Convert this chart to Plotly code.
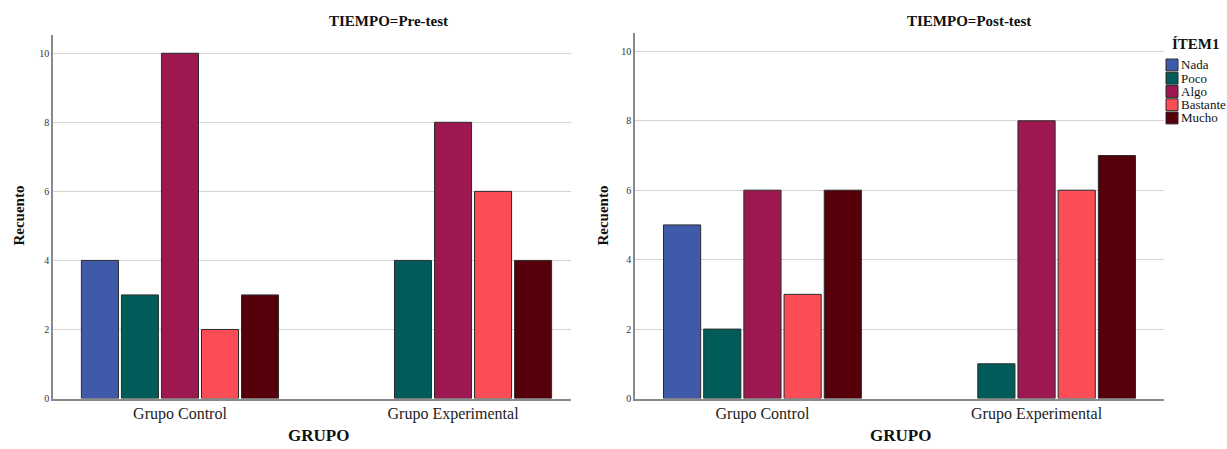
import plotly.graph_objects as go

grupos = ["Grupo Control", "Grupo Experimental"]
items = ["Nada", "Poco", "Algo", "Bastante", "Mucho"]
colors = ["#3F5AA9", "#015C59", "#9D1851", "#FC4D57", "#55000B"]

pre_values = {
    "Nada": [4, 0],
    "Poco": [3, 4],
    "Algo": [10, 8],
    "Bastante": [2, 6],
    "Mucho": [3, 4],
}
post_values = {
    "Nada": [5, 0],
    "Poco": [2, 1],
    "Algo": [6, 8],
    "Bastante": [3, 6],
    "Mucho": [6, 7],
}
y_ticks = [0, 2, 4, 6, 8, 10]

W, H = 1227, 449
FONT = "Liberation Serif"

def drawn(vals):
    # SPSS draws no bar for a zero count
    return [v if v else None for v in vals]

fig = go.Figure()
for it, col in zip(items, colors):
    fig.add_trace(go.Bar(x=grupos, y=drawn(pre_values[it]), name=it, marker_color=col,
                         marker_line=dict(color="#2b2b2b", width=1),
                         xaxis="x", yaxis="y", showlegend=False))
for it, col in zip(items, colors):
    fig.add_trace(go.Bar(x=grupos, y=drawn(post_values[it]), name=it, marker_color=col,
                         marker_line=dict(color="#2b2b2b", width=1),
                         xaxis="x2", yaxis="y2", showlegend=False))

def px_x(p):
    return p / W

def px_y(p):
    return 1 - p / H

common_x = dict(type="category", showgrid=False, showline=True, linecolor="#8a8a8a",
                linewidth=1.5, ticks="", tickfont=dict(family=FONT, size=16, color="#222"),
                zeroline=False, fixedrange=True)
common_y = dict(showgrid=True, gridcolor="#d4d4d4", gridwidth=1, showline=True,
                linecolor="#8a8a8a", linewidth=1.5, tickvals=y_ticks, ticks="",
                tickfont=dict(family=FONT, size=10, color="#333"), zeroline=False,
                fixedrange=True)

fig.update_layout(
    width=W, height=H,
    margin=dict(l=0, r=0, t=0, b=0),
    paper_bgcolor="white", plot_bgcolor="white",
    barmode="group", bargap=0.267, bargroupgap=0.075,
    xaxis=dict(common_x, domain=[px_x(53), px_x(571)], range=[-0.465, 1.432], anchor="y"),
    yaxis=dict(common_y, domain=[px_y(403), px_y(35)], range=[0, 10.54], anchor="x"),
    xaxis2=dict(common_x, domain=[px_x(635), px_x(1164)], range=[-0.465, 1.465], anchor="y2"),
    yaxis2=dict(common_y, domain=[px_y(403), px_y(33.3)], range=[0, 10.53], anchor="x2"),
    font=dict(family=FONT),
)

ann = []
def text(x, y, s, size, bold=False, angle=0, xanchor="center"):
    ann.append(dict(x=px_x(x), y=px_y(y), xref="paper", yref="paper", text=(f"<b>{s}</b>" if bold else s),
                    showarrow=False, font=dict(family=FONT, size=size, color="#111"),
                    textangle=angle, xanchor=xanchor, yanchor="middle"))

text(388, 21, "TIEMPO=Pre-test", 15, bold=True)
text(969, 21, "TIEMPO=Post-test", 15, bold=True)
text(19, 218, "Recuento", 15, bold=True, angle=-90)
text(603, 218, "Recuento", 15, bold=True, angle=-90)
text(319, 440, "GRUPO", 17, bold=True)
text(900, 440, "GRUPO", 17, bold=True)
text(1196, 45, "ÍTEM1", 15, bold=True)

shapes = []
for i, (it, col) in enumerate(zip(items, colors)):
    yc = 65.7 + i * 13.4
    shapes.append(dict(type="rect", xref="paper", yref="paper",
                       x0=px_x(1166), x1=px_x(1178), y0=px_y(yc - 6), y1=px_y(yc + 6),
                       fillcolor=col, line=dict(color="#2b2b2b", width=1)))
    ann.append(dict(x=px_x(1179), y=px_y(yc), xref="paper", yref="paper", text=it,
                    showarrow=False, font=dict(family=FONT, size=13, color="#111"),
                    xanchor="left", yanchor="middle"))

fig.update_layout(annotations=ann, shapes=shapes)
fig.write_html("out.html", config={"displayModeBar": False},
               post_script="document.body.style.margin='0';document.body.style.overflow='hidden';")
